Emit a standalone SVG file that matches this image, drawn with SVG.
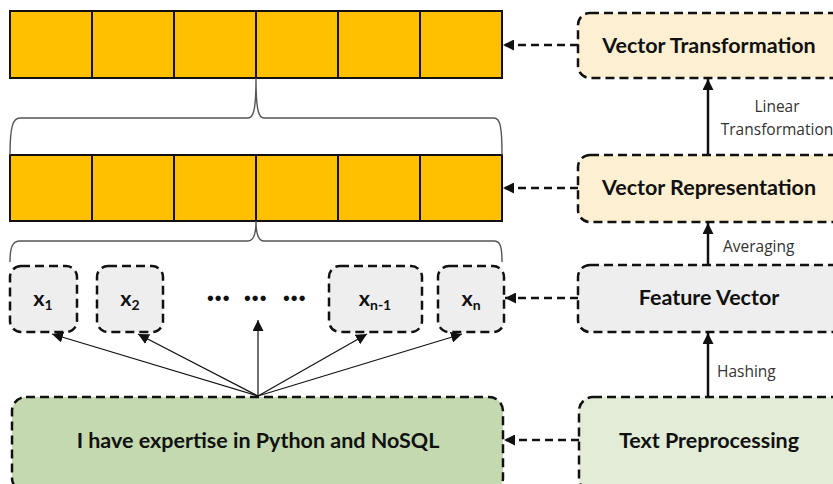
<svg xmlns="http://www.w3.org/2000/svg" width="833" height="484" viewBox="0 0 833 484">
<style>
.cell{fill:#FFC000;stroke:#111;stroke-width:2}
.node{stroke:#111;stroke-width:2.5;stroke-dasharray:9 5}
.lbl{font-family:Lato,"Open Sans",sans-serif;font-weight:bold;font-size:21.5px;fill:#111;text-anchor:middle}
.dots{font-family:Lato,"Open Sans",sans-serif;font-weight:900;font-size:26px;fill:#111;text-anchor:middle;letter-spacing:0.5px}
.sm{font-family:"Open Sans",Lato,sans-serif;font-size:15.5px;fill:#333}
.brace{fill:none;stroke:#555;stroke-width:1.4}
.dash{fill:none;stroke:#111;stroke-width:2.5;stroke-dasharray:8 5}
.solid{fill:none;stroke:#111;stroke-width:2.5}
.thin{fill:none;stroke:#111;stroke-width:1.2}
</style>
<defs>
<marker id="ahs" viewBox="0 0 10 10" refX="10" refY="5" markerWidth="11" markerHeight="11" orient="auto" markerUnits="userSpaceOnUse"><path d="M0,0 L10,5 L0,10 z" fill="#111"/></marker>
</defs>
<rect width="833" height="484" fill="#fff"/>
<g id="bar-top">
<rect class="cell" x="10" y="11" width="82" height="67"/>
<rect class="cell" x="92" y="11" width="82" height="67"/>
<rect class="cell" x="174" y="11" width="82" height="67"/>
<rect class="cell" x="256" y="11" width="82" height="67"/>
<rect class="cell" x="338" y="11" width="82" height="67"/>
<rect class="cell" x="420" y="11" width="82" height="67"/>
</g>
<g id="bar-mid">
<rect class="cell" x="10" y="155" width="82" height="66"/>
<rect class="cell" x="92" y="155" width="82" height="66"/>
<rect class="cell" x="174" y="155" width="82" height="66"/>
<rect class="cell" x="256" y="155" width="82" height="66"/>
<rect class="cell" x="338" y="155" width="82" height="66"/>
<rect class="cell" x="420" y="155" width="82" height="66"/>
</g>
<g id="braces">
<path class="brace" d="M10,155 C10,126 13,118 20,118 L248,118 C253,118 256,112 256,78 C256,112 259,118 264,118 L494,118 C500,118 502,126 502,155"/>
<path class="brace" d="M10,262 C10,246 13,241 20,241 L248,241 C253,241 256,236 256,221 C256,236 259,241 264,241 L494,241 C500,241 502,246 502,262"/>
</g>
<g id="x1"><rect class="node" x="10" y="266" width="67" height="66" rx="11" fill="#eeeeee"/><text class="lbl" x="43" y="306">x<tspan font-size="14" dy="4">1</tspan></text></g>
<g id="x2"><rect class="node" x="97" y="266" width="66" height="66" rx="11" fill="#eeeeee"/><text class="lbl" x="130" y="306">x<tspan font-size="14" dy="4">2</tspan></text></g>
<g id="dots"><text class="dots" x="218.5" y="306">···</text><text class="dots" x="255.5" y="306">···</text><text class="dots" x="294.5" y="306">···</text></g>
<g id="xn-1"><rect class="node" x="329" y="266" width="93" height="66" rx="11" fill="#eeeeee"/><text class="lbl" x="375" y="306">x<tspan font-size="14" dy="4">n-1</tspan></text></g>
<g id="xn"><rect class="node" x="438" y="266" width="66" height="66" rx="11" fill="#eeeeee"/><text class="lbl" x="471" y="306">x<tspan font-size="14" dy="4">n</tspan></text></g>
<g id="sentence"><rect class="node" x="12" y="397" width="491" height="95" rx="14" fill="#c5d9b0"/><text class="lbl" x="258" y="448" font-size="20">I have expertise in Python and NoSQL</text></g>
<g id="vector-transformation"><rect class="node" x="578" y="13" width="270" height="65" rx="12" fill="#fdefd1"/><text class="lbl" x="709" y="53">Vector Transformation</text></g>
<g id="vector-representation"><rect class="node" x="578" y="155" width="270" height="67" rx="12" fill="#fdefd1"/><text class="lbl" x="709" y="195">Vector Representation</text></g>
<g id="feature-vector"><rect class="node" x="578" y="265" width="270" height="67" rx="12" fill="#eeeeee"/><text class="lbl" x="709" y="305">Feature Vector</text></g>
<g id="text-preprocessing"><rect class="node" x="579" y="397" width="270" height="95" rx="14" fill="#e2ecd6"/><text class="lbl" x="709" y="448">Text Preprocessing</text></g>
<g id="connectors">
<line class="dash" x1="578" y1="45" x2="503" y2="45" marker-end="url(#ahs)"/>
<line class="dash" x1="578" y1="188" x2="503" y2="188" marker-end="url(#ahs)"/>
<line class="dash" x1="578" y1="298" x2="505" y2="298" marker-end="url(#ahs)"/>
<line class="dash" x1="579" y1="440" x2="504" y2="440" marker-end="url(#ahs)"/>
<line class="solid" x1="708" y1="155" x2="708" y2="79" marker-end="url(#ahs)"/>
<line class="solid" x1="708" y1="265" x2="708" y2="223" marker-end="url(#ahs)"/>
<line class="solid" x1="708" y1="397" x2="708" y2="333" marker-end="url(#ahs)"/>
<line class="thin" x1="258" y1="396" x2="52" y2="334" marker-end="url(#ahs)"/>
<line class="thin" x1="258" y1="396" x2="138" y2="334" marker-end="url(#ahs)"/>
<line class="thin" x1="258" y1="396" x2="258" y2="320" marker-end="url(#ahs)"/>
<line class="thin" x1="258" y1="396" x2="367" y2="334" marker-end="url(#ahs)"/>
<line class="thin" x1="258" y1="396" x2="462" y2="334" marker-end="url(#ahs)"/>
<text class="sm" x="777" y="112" text-anchor="middle">Linear</text>
<text class="sm" x="777" y="135" text-anchor="middle">Transformation</text>
<text class="sm" x="723" y="252">Averaging</text>
<text class="sm" x="717" y="377">Hashing</text>
</g>
</svg>
